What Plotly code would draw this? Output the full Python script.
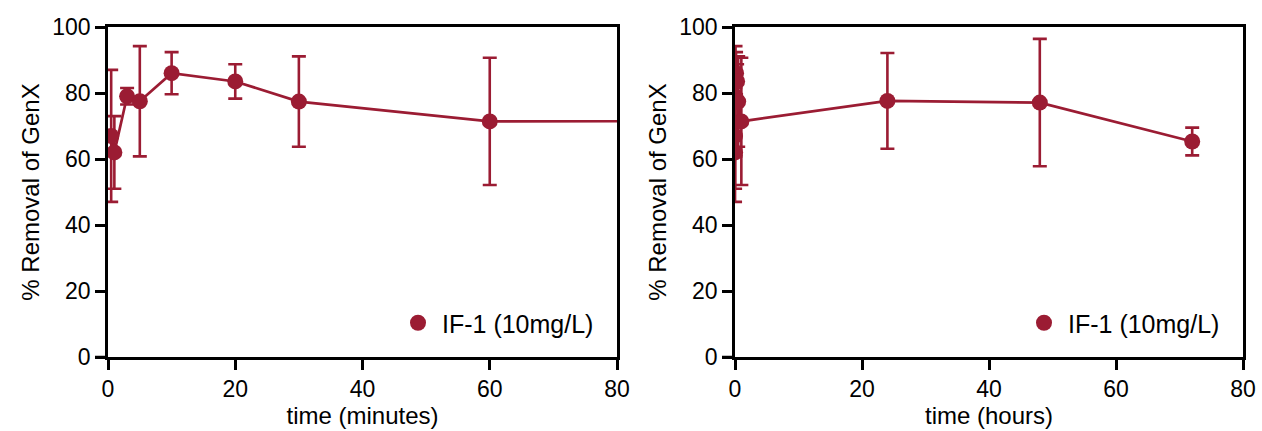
import plotly.graph_objects as go

# data (time in minutes)
time_min = [0.5, 1, 3, 5, 10, 20, 30, 60, 1440, 2880, 4320]
removal = [67.0, 62.0, 79.0, 77.5, 86.0, 83.5, 77.4, 71.4, 77.6, 77.1, 65.3]
err = [20.0, 11.0, 2.5, 16.7, 6.4, 5.2, 13.7, 19.3, 14.5, 19.3, 4.2]
time_hr = [t / 60 for t in time_min]

series_name = "IF-1 (10mg/L)"
color = "#9b1c33"
font_family = "Liberation Sans, Arial, sans-serif"

W, H = 1262, 431
fig = go.Figure()

def add(xvals, xa, ya, legend):
    fig.add_trace(go.Scatter(
        x=xvals, y=removal, mode="lines", showlegend=False,
        xaxis=xa, yaxis=ya, line=dict(color=color, width=2.7), hoverinfo="skip",
    ))
    fig.add_trace(go.Scatter(
        x=xvals, y=removal, mode="markers", name=series_name,
        xaxis=xa, yaxis=ya, legend=legend,
        marker=dict(color=color, size=16),
        error_y=dict(type="data", array=err, visible=True, color=color,
                     thickness=2.6, width=7),
    ))

add(time_min, "x", "y", "legend")
add(time_hr, "x2", "y2", "legend2")

ydom = [(H - 357) / H, (H - 27) / H]
axis_common = dict(
    showline=True, linecolor="black", linewidth=2.5, mirror=True,
    ticks="outside", ticklen=10, tickwidth=2.5, tickcolor="black",
    showgrid=False, zeroline=False, automargin=False,
    tickfont=dict(family=font_family, size=23, color="black"),
)

legend_common = dict(xanchor="left", yanchor="middle", itemwidth=38,
                     font=dict(size=25, family=font_family), bgcolor="rgba(0,0,0,0)")

fig.update_layout(
    width=W, height=H,
    margin=dict(l=0, r=0, t=0, b=0, autoexpand=False),
    paper_bgcolor="white", plot_bgcolor="white",
    font=dict(family=font_family, color="black"),
    xaxis=dict(domain=[108 / W, 617 / W], range=[0, 80], tickvals=[0, 20, 40, 60, 80],
               title=dict(text="time (minutes)", font=dict(size=24), standoff=2),
               anchor="y", **axis_common),
    yaxis=dict(domain=ydom, range=[0, 100], tickvals=[0, 20, 40, 60, 80, 100],
               title=dict(text="% Removal of GenX", font=dict(size=24), standoff=6),
               anchor="x", **axis_common),
    xaxis2=dict(domain=[735 / W, 1243 / W], range=[0, 80], tickvals=[0, 20, 40, 60, 80],
                title=dict(text="time (hours)", font=dict(size=24), standoff=2),
                anchor="y2", **axis_common),
    yaxis2=dict(domain=ydom, range=[0, 100], tickvals=[0, 20, 40, 60, 80, 100],
                title=dict(text="% Removal of GenX", font=dict(size=24), standoff=6),
                anchor="x2", **axis_common),
    legend=dict(x=394 / W, y=(H - 323) / H, **legend_common),
    legend2=dict(x=1020 / W, y=(H - 323) / H, **legend_common),
    showlegend=True,
)

# x-axis line extends slightly left of the y-axis (Prism style)
for x0, x1 in [(95, 108), (722, 735)]:
    fig.add_shape(type="line", xref="paper", yref="paper",
                  x0=x0 / W, x1=x1 / W, y0=(H - 357) / H, y1=(H - 357) / H,
                  line=dict(color="black", width=2.5))

fig.write_html("out.html")
